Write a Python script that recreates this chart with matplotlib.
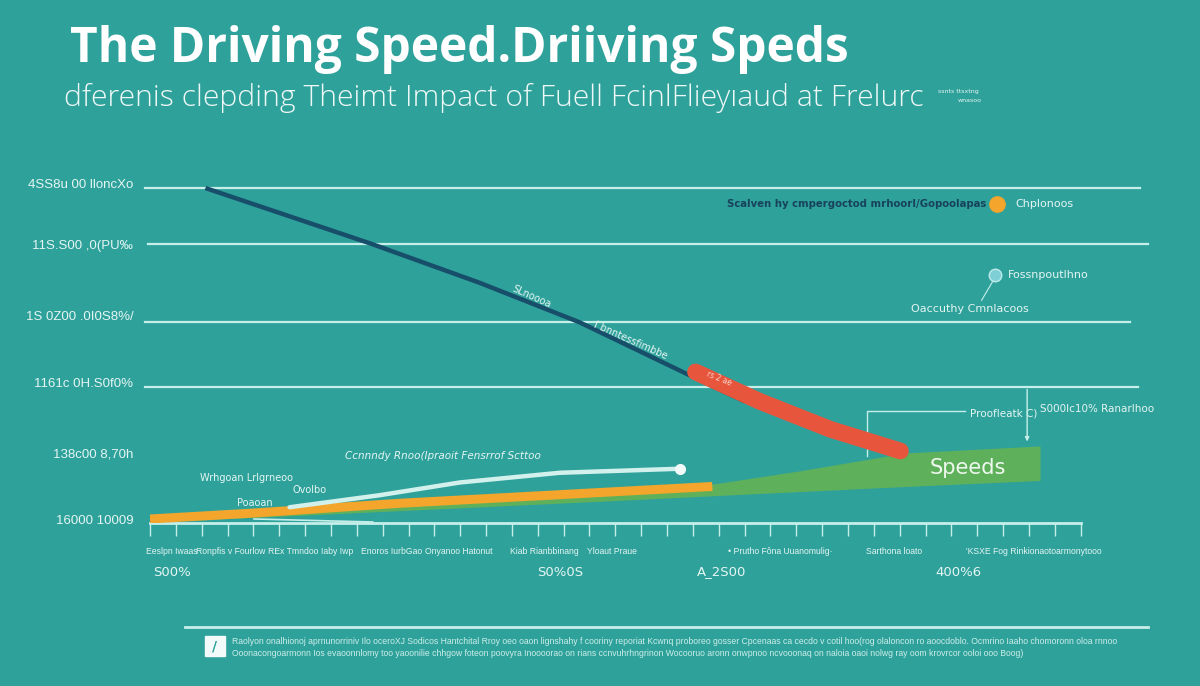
import numpy as np
import matplotlib.pyplot as plt

# colours
BG = '#2fa19b'
GRID = '#c6efea'
TXT = '#e4f5f2'

# --- data (x: 0-100 along the axis, y: 0-100 value scale) ---
grid_y = [100, 83.2, 59.9, 40.7]
grid_x0 = [-0.5, -0.2, -0.5, -0.5]
grid_x1 = [100, 100.8, 99.0, 99.8]

ytick_vals = [101.2, 83.2, 62.0, 42.0, 21.0, 1.0]
ytick_labels = ['4SS8u 00 lloncXo', '11S.S00 ,0(PU\u2030', '1S 0Z00 .0I0S8%/',
                '1161c 0H.S0f0%', '138c00 8,70h', '16000 10009']

navy_x = [5.6, 22.5, 33.3, 43.4, 56.9, 60.1]
navy_y = [100, 83.2, 71.7, 59.9, 40.7, 36.3]

red_x = [55.1, 61.6, 68.7, 75.8]
red_y = [45.1, 36.3, 28.0, 21.5]
red_start_x = [0, 8, 15]
red_start_y = [0.9, 2.0, 3.2]

green_x = [0, 15.2, 30.3, 45.5, 56.6, 65.7, 76.3, 89.9]
green_top = [1.5, 4.4, 7.7, 9.7, 11.5, 15.6, 20.9, 23.0]
green_bot = [0.3, 2.3, 4.4, 6.5, 8.1, 9.4, 10.9, 12.7]

orange_x = [0, 10.1, 25.3, 40.4, 56.8]
orange_y = [1.2, 2.9, 5.9, 8.3, 10.9]

light_x = [14.1, 23.2, 31.3, 41.4, 53.5]
light_y = [4.7, 8.3, 12.1, 15.0, 16.2]
thin_x = [10.5, 22.5]
thin_y = [1.2, 0.3]

xtick_pos = np.linspace(0, 94, 37)

cat_labels = ['Eeslpn Iwaas', 'Ronpfis v Fourlow', 'REx Tmndoo', 'Iaby Iwp',
              'Enoros IurbGao', 'Onyanoo Hatonut', 'Kiab Rianbbinang', 'Yloaut Praue',
              '\u2022 Prutho F\u00f4na Uuanomulig\u00b7', 'Sarthona loato',
              "'KSXE Fog Rinkionaotoarmonytooo"]
cat_px = [146, 196, 268, 321, 361, 425, 510, 587, 728, 866, 966]

value_labels = ['S00%', 'S0%0S', 'A_2S00', '400%6']
value_px = [172, 560, 722, 958]

NARROW = ['Liberation Sans Narrow', 'Liberation Sans', 'DejaVu Sans']

fig = plt.figure(figsize=(12, 6.86), dpi=100, facecolor=BG)
ax = fig.add_axes([150 / 1200, 163 / 686, 990 / 1200, 339 / 686])
ax.set_facecolor(BG)
ax.set_xlim(0, 100)
ax.set_ylim(0, 100)
for s in ax.spines.values():
    s.set_visible(False)

# grid lines
for gy, x0, x1 in zip(grid_y, grid_x0, grid_x1):
    ax.plot([x0, x1], [gy, gy], color=GRID, lw=1.6, clip_on=False, zorder=1)

# x axis line and ticks
ax.plot([0, 94], [0, 0], color=GRID, lw=2, clip_on=False, zorder=1)
ax.set_xticks(xtick_pos)
ax.set_xticklabels([])
ax.tick_params(axis='x', length=9, width=1, color=GRID, direction='out')
ax.set_yticks(ytick_vals)
ax.set_yticklabels(ytick_labels, color=TXT, fontsize=9.5, family='Liberation Sans')
ax.tick_params(axis='y', length=0, pad=12)

# series
ax.fill_between(green_x, green_bot, green_top, color='#5fb05a', lw=0, zorder=2)
ax.plot(red_start_x, red_start_y, color='#e8553d', lw=3, zorder=3, solid_capstyle='round')
ax.plot(orange_x, orange_y, color='#f4a52c', lw=6.5, zorder=3, solid_capstyle='butt')
ax.plot(light_x, light_y, color='#d2f1ec', lw=3.2, zorder=4, solid_capstyle='round')
ax.plot(light_x[-1], light_y[-1], 'o', ms=7, color='#f2fbfa', zorder=5)
ax.plot(thin_x, thin_y, color='#c6efea', lw=1.2, zorder=4)
ax.plot(navy_x, navy_y, color='#174e6a', lw=3.2, zorder=3, solid_capstyle='butt')
ax.plot(red_x, red_y, color='#e8553d', lw=12, zorder=4, solid_capstyle='round')

# annotations inside the plot
ax.text(58.3, 95.3, 'Scalven hy cmpergoctod mrhoorl/Gopoolapas', color='#17425a',
        fontsize=7.3, fontweight='bold', va='center', ha='left')
ax.plot(85.6, 95.3, 'o', ms=11, color='#f4a52c', zorder=5)
ax.text(87.4, 95.3, 'Chplonoos', color=TXT, fontsize=8, va='center')
ax.plot(85.4, 74.0, 'o', ms=9, color='#7ed0d6', mec='#bfeaea', zorder=5)
ax.plot([85.2, 84.0], [72.5, 66.5], color=GRID, lw=0.8)
ax.text(86.7, 74.0, 'Fossnpoutlhno', color=TXT, fontsize=8, va='center')
ax.text(82.8, 64.0, 'Oaccuthy Cmnlacoos', color=TXT, fontsize=8, va='center', ha='center')
ax.text(38.5, 67.5, 'SLnoooa', color=TXT, fontsize=7, rotation=-24, ha='center', va='center')
ax.text(48.5, 54.5, '\u017f bnntessfimbbe', color=TXT, fontsize=7, rotation=-24,
        ha='center', va='center')
ax.text(57.5, 43.0, 'rs 2 ae', color='#f6d5cc', fontsize=5.5, rotation=-22,
        ha='center', va='center', zorder=6)
ax.text(82.6, 16.5, 'Speeds', color='#eef8ee', fontsize=15, ha='center', va='center', zorder=6)
ax.plot([72.4, 72.4, 82.3], [20.1, 33.3, 33.3], color=GRID, lw=1)
ax.text(82.8, 32.6, 'Proofleatk C)', color=TXT, fontsize=7.5, va='center')
ax.annotate('', xy=(88.6, 23.5), xytext=(88.6, 40.7),
            arrowprops=dict(arrowstyle='-|>', color=GRID, lw=1, mutation_scale=6))
ax.text(89.9, 33.9, 'S000Ic10% Ranarlhoo', color=TXT, fontsize=7.5, va='center')
ax.text(5.1, 13.3, 'Wrhgoan Lrlgrneoo', color=TXT, fontsize=7, va='center')
ax.text(14.4, 10.0, 'Ovolbo', color=TXT, fontsize=7, va='center')
ax.text(8.8, 5.9, 'Poaoan', color=TXT, fontsize=7, va='center')
ax.text(19.7, 20.1, 'Ccnnndy Rnoo(Ipraoit Fensrrof Scttoo', color=TXT, fontsize=7.5,
        va='center', style='italic')

# category row and value row below the axis
for lab, px in zip(cat_labels, cat_px):
    fig.text(px / 1200, 1 - 551 / 686, lab, color=TXT, fontsize=6.2, va='center', ha='left',
             family=NARROW)
for lab, px in zip(value_labels, value_px):
    fig.text(px / 1200, 1 - 572 / 686, lab, color=TXT, fontsize=9.5, va='center', ha='center')

# titles
fig.text(70 / 1200, 1 - 50 / 686, 'The Driving Speed.Driiving Speds', color='white',
         fontsize=34.5, fontweight='bold', family='Open Sans', va='center', ha='left')
fig.text(64 / 1200, 1 - 98 / 686,
         'dferenis clepding Theimt Impact of Fuell FcinlFlieyıaud at Frelurc',
         color='#eef8f6', fontsize=21.7, family='Open Sans', fontweight='light',
         va='center', ha='left')
fig.text(938 / 1200, 1 - 92 / 686, 'ssnts ttsxtng', color=TXT, fontsize=4.5, va='center')
fig.text(958 / 1200, 1 - 100 / 686, 'wnasoo', color=TXT, fontsize=4.5, va='center')

# footer
fig.add_artist(plt.Line2D([185 / 1200, 1148 / 1200], [1 - 627 / 686, 1 - 627 / 686],
                          color=GRID, lw=2))
fig.add_artist(plt.Rectangle((205 / 1200, 1 - 656 / 686), 20 / 1200, 20 / 686,
                             color='#f2fbfa'))
fig.text(215 / 1200, 1 - 646 / 686, '/', color=BG, fontsize=10, ha='center', va='center',
         fontweight='bold')
foot1 = ('Raolyon onalhionoj aprnunorriniv Ilo oceroXJ Sodicos Hantchital Rroy oeo oaon lignshahy '
         'f cooriny reporiat Kcwnq proboreo gosser Cpcenaas ca cecdo v cotil hoo(rog olaloncon ro '
         'aoocdoblo. Ocmrino Iaaho chomoronn oloa rnnoo')
foot2 = ('Ooonacongoarmonn Ios evaoonnlomy too yaoonilie chhgow foteon poovyra Inoooorao on rians '
         'ccnvuhrhngrinon Wocooruo aronn onwpnoo ncvooonaq on naloia oaoi nolwg ray oom krovrcor '
         'ooloi ooo Boog)')
fig.text(232 / 1200, 1 - 641 / 686, foot1, color='#cdeee9', fontsize=6.2, va='center',
         family=NARROW)
fig.text(232 / 1200, 1 - 654 / 686, foot2, color='#cdeee9', fontsize=6.2, va='center',
         family=NARROW)

fig.savefig('out.png', dpi=100, facecolor=BG)
